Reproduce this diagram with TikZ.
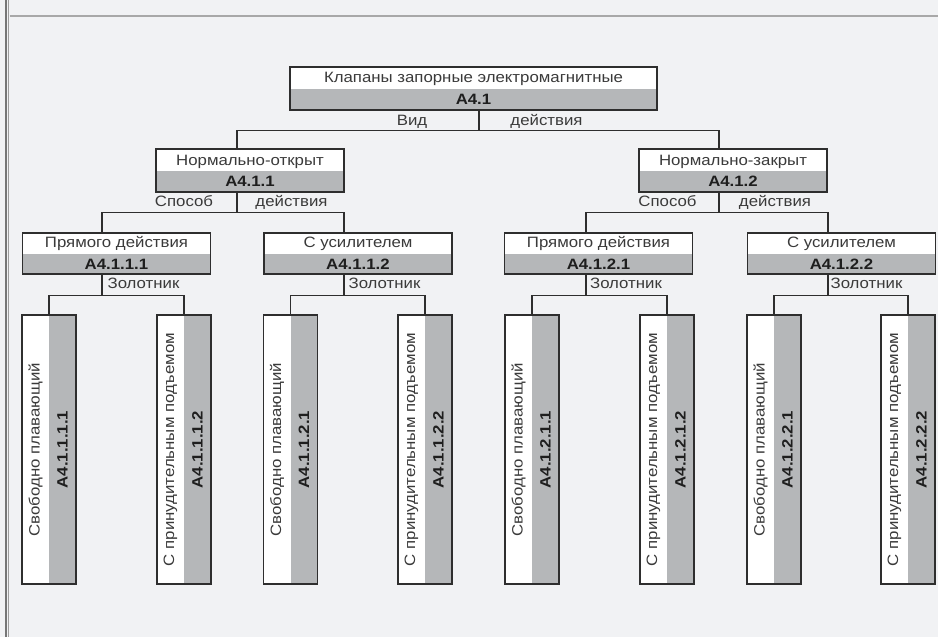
\documentclass[tikz,border=0pt]{standalone}
\usepackage{fontspec}
\setmainfont[FakeStretch=1.12]{Liberation Sans}
\definecolor{bg}{HTML}{F1F2F4}
\definecolor{boxgray}{HTML}{B5B7B9}
\definecolor{linec}{HTML}{2E2E2E}
\definecolor{txtc}{HTML}{3A3A3A}
\definecolor{codec}{HTML}{1E1E1E}
\definecolor{frameA}{HTML}{767676}
\definecolor{frameB}{HTML}{9C9C9C}
\definecolor{frameC}{HTML}{A8A8A8}
\tikzset{
  boxbase/.style={draw=linec, line width=1.3pt, fill=white, inner sep=0pt,
    path picture={\fill[boxgray] (path picture bounding box.west) rectangle (path picture bounding box.south east);}},
  hbox/.style={boxbase, minimum width=188pt, minimum height=41pt},
  leafbox/.style={draw=linec, line width=1.3pt, fill=white, inner sep=0pt,
    minimum width=54pt, minimum height=269pt,
    path picture={\fill[boxgray] (path picture bounding box.north) rectangle (path picture bounding box.south east);}},
  desc/.style={font=\fontsize{15}{18}\selectfont, text=txtc, inner sep=0pt},
  code/.style={font=\fontsize{15}{18}\selectfont\bfseries, text=codec, inner sep=0pt},
  lab/.style={font=\fontsize{15}{18}\selectfont, text=txtc, inner sep=0pt, anchor=base},
  conn/.style={draw=linec, line width=1.2pt},
}
\begin{document}
\begin{tikzpicture}[x=1pt,y=-1pt]
\fill[bg] (0,0) rectangle (938,637);
\useasboundingbox (0,0) rectangle (938,637);
% frame lines
\draw[frameA, line width=2.3pt] (6,0) -- (6,637);
\draw[frameB, line width=1.3pt] (8.8,0) -- (8.8,637);
\draw[frameC, line width=1.6pt] (9.5,15.8) -- (938,15.8);

% top node
\node[boxbase, minimum width=367pt, minimum height=43pt] (top) at (473.5,88.5) {};
\node[desc, anchor=base] (topt) at ([yshift=-16pt]top.north) {Клапаны запорные электромагнитные};
\node[code, anchor=base] (topc) at ([yshift=6pt]top.south) {A4.1};

% level 2
\node[boxbase, minimum width=188pt, minimum height=43pt] (n1) at (250,170.5) {};
\node[desc, anchor=base] (n1t) at ([yshift=-17pt]n1.north) {Нормально-открыт};
\node[code, anchor=base] (n1c) at ([yshift=6pt]n1.south) {A4.1.1};
\node[boxbase, minimum width=188pt, minimum height=43pt] (n2) at (733,170.5) {};
\node[desc, anchor=base] (n2t) at ([yshift=-17pt]n2.north) {Нормально-закрыт};
\node[code, anchor=base] (n2c) at ([yshift=6pt]n2.south) {A4.1.2};

% level 3
\node[hbox] (n11) at (116.5,253.5) {};
\node[desc, anchor=base] (n11t) at ([yshift=-15.5pt]n11.north) {Прямого действия};
\node[code, anchor=base] (n11c) at ([yshift=5pt]n11.south) {A4.1.1.1};
\node[hbox] (n12) at (358,253.5) {};
\node[desc, anchor=base] (n12t) at ([yshift=-15.5pt]n12.north) {С усилителем};
\node[code, anchor=base] (n12c) at ([yshift=5pt]n12.south) {A4.1.1.2};
\node[hbox] (n21) at (598.5,253.5) {};
\node[desc, anchor=base] (n21t) at ([yshift=-15.5pt]n21.north) {Прямого действия};
\node[code, anchor=base] (n21c) at ([yshift=5pt]n21.south) {A4.1.2.1};
\node[hbox] (n22) at (841.5,253.5) {};
\node[desc, anchor=base] (n22t) at ([yshift=-15.5pt]n22.north) {С усилителем};
\node[code, anchor=base] (n22c) at ([yshift=5pt]n22.south) {A4.1.2.2};

% leaves
\foreach \nm/\xx/\txt/\cd in {
  l111/49/Свободно плавающий/A4.1.1.1.1,
  l112/184/С принудительным подъемом/A4.1.1.1.2,
  l121/290.5/Свободно плавающий/A4.1.1.2.1,
  l122/425/С принудительным подъемом/A4.1.1.2.2,
  l211/532/Свободно плавающий/A4.1.2.1.1,
  l212/667/С принудительным подъемом/A4.1.2.1.2,
  l221/774/Свободно плавающий/A4.1.2.2.1,
  l222/908/С принудительным подъемом/A4.1.2.2.2}{
  \node[leafbox] (\nm) at (\xx,449.5) {};
  \node[desc, rotate=90] (\nm t) at ([xshift=-13.5pt]\nm.center) {\txt};
  \node[code, rotate=90] (\nm c) at ([xshift=13.5pt]\nm.center) {\cd};
}

% connectors
\draw[conn] ([xshift=5.5pt]top.south) -- ++(0,20) coordinate (f0);
\draw[conn] ([xshift=-13pt]n1.north) |- (f0) -| ([xshift=-14pt]n2.north);

\draw[conn] ([xshift=-13pt]n1.south) -- ++(0,20) coordinate (f1);
\draw[conn] ([xshift=-14.5pt]n11.north) |- (f1) -| ([xshift=-14pt]n12.north);
\draw[conn] ([xshift=-14pt]n2.south) -- ++(0,20) coordinate (f2);
\draw[conn] ([xshift=-12.5pt]n21.north) |- (f2) -| ([xshift=-13.5pt]n22.north);

\draw[conn] ([xshift=-14.5pt]n11.south) -- ++(0,21) coordinate (g11);
\draw[conn] (l111.north) |- (g11) -| (l112.north);
\draw[conn] ([xshift=-14pt]n12.south) -- ++(0,21) coordinate (g12);
\draw[conn] (l121.north) |- (g12) -| (l122.north);
\draw[conn] ([xshift=-12.5pt]n21.south) -- ++(0,21) coordinate (g21);
\draw[conn] (l211.north) |- (g21) -| (l212.north);
\draw[conn] ([xshift=-13.5pt]n22.south) -- ++(0,21) coordinate (g22);
\draw[conn] (l221.north) |- (g22) -| (l222.north);

% connector labels
\node[lab] (lv1) at (412,125) {Вид};
\node[lab] (lv2) at (546.5,125) {действия};
\node[lab] (ls1) at (184,206.5) {Способ};
\node[lab] (ls2) at (291.5,206.5) {действия};
\node[lab] (ls3) at (667.5,206.5) {Способ};
\node[lab] (ls4) at (775,206.5) {действия};
\node[lab] (lz1) at (143.5,288) {Золотник};
\node[lab] (lz2) at (384.5,288) {Золотник};
\node[lab] (lz3) at (626,288) {Золотник};
\node[lab] (lz4) at (866.5,288) {Золотник};
\end{tikzpicture}
\end{document}
